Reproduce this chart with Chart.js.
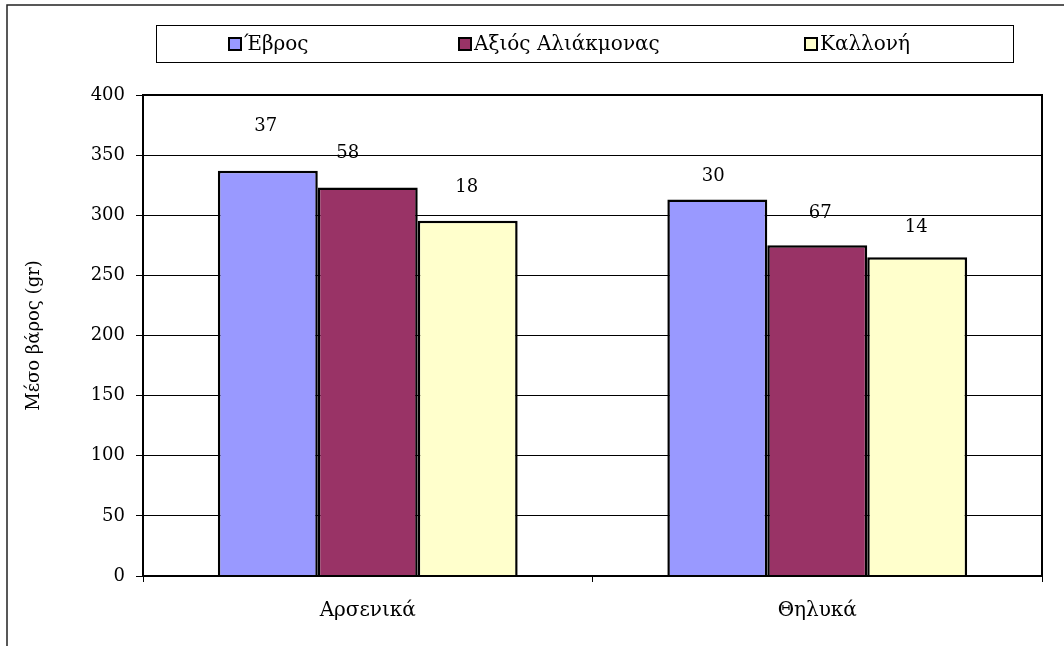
<!DOCTYPE html>
<html>
<head>
<meta charset="utf-8">
<script src="https://cdn.jsdelivr.net/npm/chart.js@4/dist/chart.umd.min.js"></script>
<style>
  html, body { margin: 0; padding: 0; background: #fff; }
  #wrap { width: 1064px; height: 646px; }
</style>
</head>
<body>
<div id="wrap"><canvas id="barChart" width="1064" height="646"></canvas></div>
<script>
// data
var categories = ['Αρσενικά', 'Θηλυκά'];
var seriesNames = ['Έβρος', 'Αξιός Αλιάκμονας', 'Καλλονή'];
var evrosWeight = [337, 313];
var axiosWeight = [323, 275];
var kalloniWeight = [295.5, 265];
// sample sizes printed above the bars
var evrosN = [37, 30];
var axiosN = [58, 67];
var kalloniN = [18, 14];
var yMin = 0, yMax = 400, yStep = 50;

var color = {
    evros: '#9999FF',
    axios: '#993366',
    kalloni: '#FFFFCC'
};
var serifFont = "'DejaVu Serif', 'Liberation Serif', serif";

// small nudges of the count labels: [dx, distance above bar top]
var labelNudge = [
    [[-2, 44], [-4, 23]],
    [[-20, 34], [3, 32]],
    [[-1, 33], [-1, 30]]
];

// outer frame, plot frame, legend box and the count labels
var decorations = {
    id: 'decorations',
    afterDraw: function (chart) {
        var c = chart.ctx;
        var area = chart.chartArea;
        c.save();

        // outer frame (top and left only visible)
        c.strokeStyle = '#222';
        c.lineWidth = 1.5;
        c.beginPath();
        c.moveTo(7, 646);
        c.lineTo(7, 5);
        c.lineTo(1064, 5);
        c.stroke();

        // plot area frame
        c.strokeStyle = '#000';
        c.lineWidth = 2;
        c.strokeRect(area.left, area.top, area.right - area.left, area.bottom - area.top);

        // legend
        c.lineWidth = 1;
        c.strokeRect(156.5, 25.5, 857, 37);
        var itemX = [229, 459, 805];
        c.font = '20px ' + serifFont;
        c.textBaseline = 'middle';
        c.textAlign = 'left';
        chart.data.datasets.forEach(function (ds, i) {
            c.fillStyle = ds.backgroundColor;
            c.fillRect(itemX[i], 38, 12, 12);
            c.lineWidth = 2;
            c.strokeStyle = '#000';
            c.strokeRect(itemX[i], 38, 12, 12);
            c.fillStyle = '#000';
            c.fillText(ds.label, itemX[i] + 15, 45);
        });

        // count labels above each bar
        c.font = '18px ' + serifFont;
        c.textAlign = 'center';
        c.textBaseline = 'middle';
        c.fillStyle = '#000';
        chart.data.datasets.forEach(function (ds, i) {
            var meta = chart.getDatasetMeta(i);
            meta.data.forEach(function (bar, j) {
                var nudge = labelNudge[i][j];
                c.fillText(String(ds.counts[j]), bar.x + nudge[0], bar.y - nudge[1]);
            });
        });
        c.restore();
    }
};

var ctx = document.getElementById('barChart');
window.myBar = new Chart(ctx, {
    type: 'bar',
    data: {
        labels: categories,
        datasets: [
            {label: seriesNames[0], data: evrosWeight, counts: evrosN, backgroundColor: color.evros},
            {label: seriesNames[1], data: axiosWeight, counts: axiosN, backgroundColor: color.axios},
            {label: seriesNames[2], data: kalloniWeight, counts: kalloniN, backgroundColor: color.kalloni}
        ]
    },
    options: {
        responsive: false,
        animation: false,
        devicePixelRatio: 1,
        layout: {
            padding: {top: 95, right: 22, left: 0, bottom: 0}
        },
        datasets: {
            bar: {
                borderColor: '#000',
                borderWidth: 2.5,
                categoryPercentage: 0.667,
                barPercentage: 1.0
            }
        },
        plugins: {
            legend: {display: false},
            tooltip: {enabled: false},
            title: {display: false}
        },
        scales: {
            x: {
                grid: {
                    offset: true,
                    drawOnChartArea: false,
                    drawTicks: true,
                    tickLength: 6,
                    color: '#000'
                },
                border: {color: '#000', width: 2},
                ticks: {
                    color: '#000',
                    padding: 17,
                    font: {family: serifFont, size: 20}
                },
                afterFit: function (scale) { scale.height = 70; }
            },
            y: {
                min: yMin,
                max: yMax,
                ticks: {
                    stepSize: yStep,
                    color: '#000',
                    padding: 11,
                    font: {family: serifFont, size: 18}
                },
                grid: {
                    color: '#000',
                    lineWidth: 1,
                    tickLength: 7,
                    tickColor: '#000'
                },
                border: {color: '#000', width: 2},
                title: {
                    display: true,
                    text: 'Μέσο βάρος (gr)',
                    color: '#000',
                    font: {family: serifFont, size: 18},
                    padding: {top: 24, bottom: 4}
                },
                afterFit: function (scale) { scale.width = 143; }
            }
        }
    },
    plugins: [decorations]
});
</script>
</body>
</html>
